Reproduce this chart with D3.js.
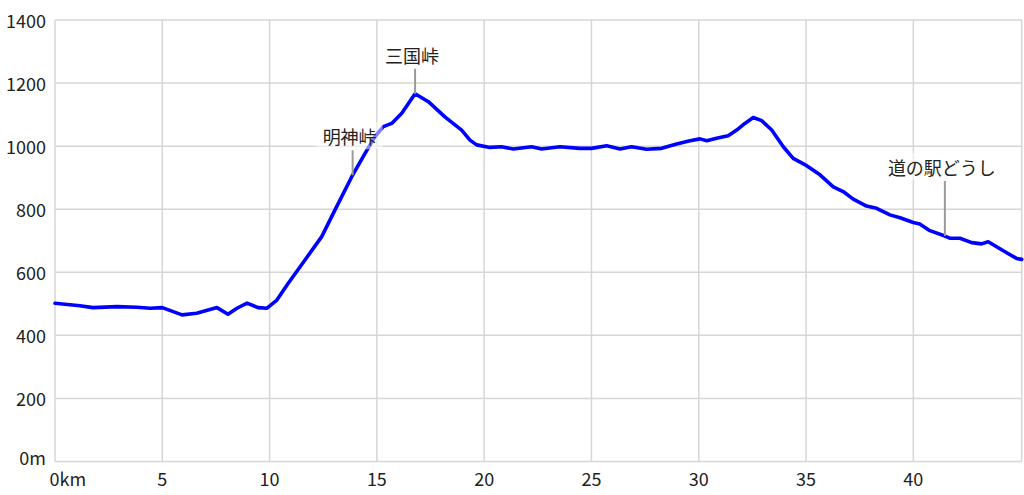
<!DOCTYPE html>
<html><head><meta charset="utf-8">
<script src="https://cdn.jsdelivr.net/npm/d3@7"></script>
<style>
html,body{margin:0;padding:0;background:#fff;}
svg{display:block;}
text{font-family:"Noto Sans CJK JP","Noto Sans",sans-serif;fill:#222;}
</style></head>
<body><svg id="c" width="1024" height="495"></svg>
<script>
// distance (km) and elevation (m)
const distKm = [0,1.16,1.77,2.89,3.82,4.43,5.0,5.92,6.6,7.55,8.06,8.48,8.95,9.46,9.88,10.34,10.87,11.65,12.43,13.05,13.83,14.45,14.91,15.3,15.69,16.16,16.78,17.4,18.17,18.95,19.34,19.65,20.27,20.8,21.36,22.21,22.68,23.53,24.46,25.0,25.71,26.33,26.87,27.57,28.27,28.97,29.59,30.06,30.37,30.83,31.37,31.77,32.15,32.54,32.93,33.4,33.94,34.4,35.03,35.65,36.27,36.73,37.2,37.82,38.29,38.91,39.38,40.0,40.3,40.77,41.47,41.7,42.17,42.72,43.18,43.49,43.88,44.35,44.81,45.05];
const elevM  = [502,494,488,491,489,486,488,465,470,488,467,486,502,488,486,512,565,639,713,798,903,977,1030,1062,1072,1104,1166,1141,1093,1051,1019,1004,996,998,991,998,991,998,993,993,1001,991,998,990,993,1007,1017,1023,1017,1025,1033,1051,1072,1091,1081,1051,998,961,938,909,871,856,832,810,803,782,773,758,753,732,715,708,708,694,690,697,681,662,644,641];
const xTicks = [0,5,10,15,20,25,30,35,40];
const xTickLabels = ["0km","5","10","15","20","25","30","35","40"];
const yTicks = [0,200,400,600,800,1000,1200,1400];
const yTickLabels = ["0m","200","400","600","800","1000","1200","1400"];
const annoNames = ["明神峠","三国峠","道の駅どうし"];
const annoKm = [13.87,16.78,41.47];

const svg = d3.select("#c");
const L=55, R=1021.7, T=20, B=461.5;
const x = d3.scaleLinear().domain([0,45.05]).range([L,R]);
const y = d3.scaleLinear().domain([0,1400]).range([B,T]);
const grid="#d6d6d6";

// grid
svg.append("g").selectAll("line").data(yTicks).join("line")
  .attr("x1",L).attr("x2",R).attr("y1",d=>y(d)).attr("y2",d=>y(d))
  .attr("stroke",grid).attr("stroke-width",1.5);
svg.append("g").selectAll("line").data(xTicks).join("line")
  .attr("x1",d=>x(d)).attr("x2",d=>x(d)).attr("y1",T).attr("y2",B)
  .attr("stroke",grid).attr("stroke-width",1.5);
svg.append("line").attr("x1",R).attr("x2",R).attr("y1",T).attr("y2",B)
  .attr("stroke",grid).attr("stroke-width",1.5);

// tick labels
svg.append("g").selectAll("text").data(yTicks).join("text")
  .attr("x",46).attr("y",(d)=>y(d)-(d===0?5:0))
  .attr("text-anchor","end").attr("dominant-baseline","central")
  .attr("font-size",18).text((d,i)=>yTickLabels[i]);
svg.append("g").selectAll("text").data(xTicks).join("text")
  .attr("x",d=>x(d)+(d===0?-5.5:0)).attr("y",478)
  .attr("text-anchor",d=>d===0?"start":"middle").attr("dominant-baseline","central")
  .attr("font-size",18).text((d,i)=>xTickLabels[i]);

// profile line
const pts = distKm.map((d,i)=>[d,elevM[i]]);
svg.append("path").datum(pts)
  .attr("fill","none").attr("stroke","#0000ff").attr("stroke-width",3.6)
  .attr("stroke-linejoin","round").attr("stroke-linecap","round")
  .attr("d",d3.line().x(d=>x(d[0])).y(d=>y(d[1])));

// annotations
const elevAt = k => { const i = d3.bisectLeft(distKm,k); if(i<=0) return elevM[0];
  const t=(k-distKm[i-1])/(distKm[i]-distKm[i-1]); return elevM[i-1]+t*(elevM[i]-elevM[i-1]); };
const leaderLen = [25,25,55];
annoNames.forEach((name,i)=>{
  const px=x(annoKm[i]), py=y(elevAt(annoKm[i]));
  const top=py-leaderLen[i];
  svg.append("line").attr("x1",px).attr("x2",px).attr("y1",top).attr("y2",py)
    .attr("stroke","#9a9a9a").attr("stroke-width",2);
  const g=svg.append("g");
  const t=g.append("text").attr("x",px-3).attr("y",top-14)
    .attr("text-anchor","middle").attr("dominant-baseline","central")
    .attr("font-size",18).text(name);
  const bb=t.node().getBBox();
  g.insert("rect","text").attr("x",bb.x-6).attr("y",top-28).attr("width",bb.width+12).attr("height",27)
    .attr("fill","#fff").attr("fill-opacity",0.5);
});
</script></body></html>
